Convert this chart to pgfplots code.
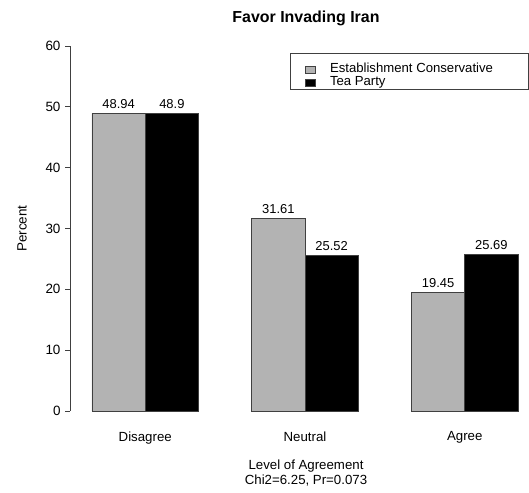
\documentclass[border=0pt]{standalone}
\usepackage{fontspec}
\setmainfont{Liberation Sans}
\usepackage{pgfplots}
\pgfplotsset{compat=1.18}
\definecolor{barg}{HTML}{B3B3B3}
\definecolor{ln}{HTML}{404040}
\begin{document}
\begin{tikzpicture}[x=1bp,y=1bp]
\useasboundingbox (0,0) rectangle (529,493);
\begin{axis}[
  at={(70bp,82bp)}, anchor=south west,
  scale only axis, width=448bp, height=365bp,
  xmin=0.587, xmax=9, ymin=0, ymax=60,
  clip=false,
  axis y line*=left, axis x line*=bottom,
  x axis line style={draw=none},
  y axis line style={draw=ln, line width=0.8bp},
  ytick={0,10,...,60},
  xtick={2,5,8},
  xticklabels={Disagree,Neutral,Agree},
  major x tick style={draw=none},
  tick align=outside,
  major tick length=5bp,
  major y tick style={draw=ln, line width=0.8bp},
  tick label style={font=\fontsize{13.5}{15}\selectfont},
  yticklabel style={xshift=-1bp},
  /pgf/number format/assume math mode=true,
  xticklabel style={yshift=-12bp, font=\fontsize{13.3}{15}\selectfont},
  ybar, bar width=1, bar shift=0,
  nodes near coords,
  every node near coord/.append style={font=\fontsize{13}{15}\selectfont, anchor=south, inner sep=2.5bp, yshift=2bp},
  legend style={draw=none, fill=none, at={(0.5246,0.954)}, anchor=north west,
    inner sep=0pt, column sep=14bp,
    nodes={inner ysep=0pt, inner xsep=0pt, text height=9.5bp, text depth=3.8bp, font=\fontsize{13.2}{14}\selectfont}},
  legend cell align=left,
  legend image code/.code={\draw[#1] (0bp,-3.5bp) rectangle (10bp,3.5bp);},
]
\addplot[fill=barg, draw=ln, line width=0.8bp] coordinates {(1.5,48.94) (4.5,31.61) (7.5,19.45)};
\addlegendentry{Establishment Conservative}
\addplot[fill=black, draw=ln, line width=0.8bp] coordinates {(2.5,48.9) (5.5,25.52) (8.5,25.69)};
\addlegendentry{Tea Party}
\end{axis}
\draw[ln, line width=0.8bp] (290,440) rectangle (528,404);
\node[font=\bfseries\fontsize{16}{18}\selectfont] at (306,475) {Favor Invading Iran};
\node[rotate=90, font=\fontsize{13.5}{15}\selectfont] at (22,264.5) {Percent};
\node[font=\fontsize{13.3}{15}\selectfont] at (306,27) {Level of Agreement};
\node[font=\fontsize{13.3}{15}\selectfont] at (306,12) {Chi2=6.25, Pr=0.073};
\end{tikzpicture}
\end{document}
